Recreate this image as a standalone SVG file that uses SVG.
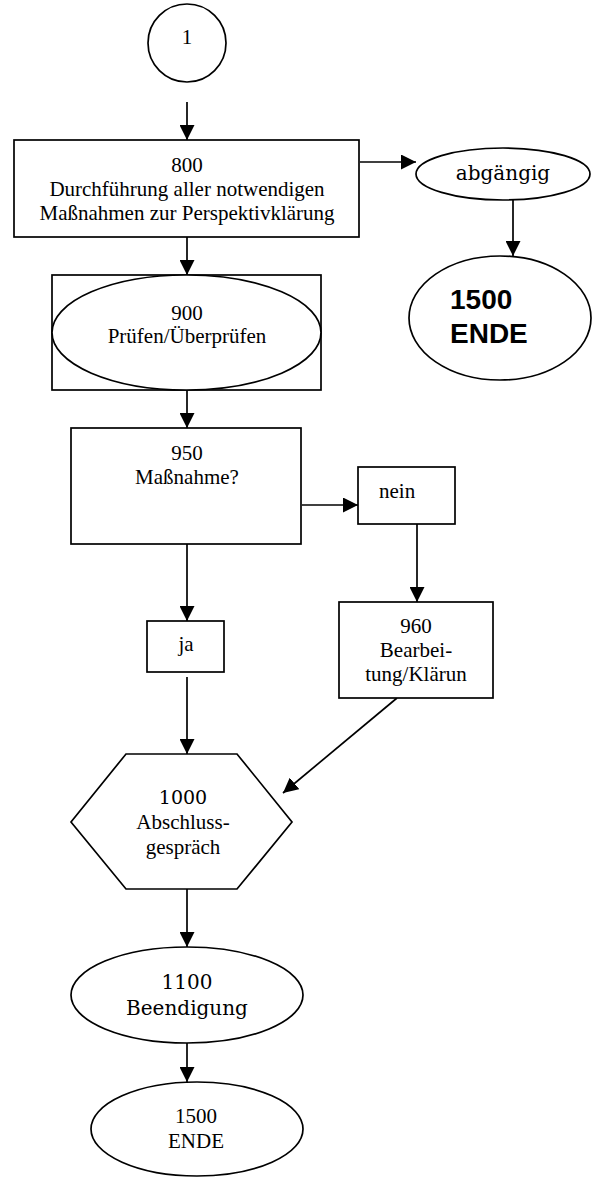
<svg xmlns="http://www.w3.org/2000/svg" width="600" height="1178" viewBox="0 0 600 1178">
<style>
.s{fill:#fff;stroke:#000;stroke-width:1.7}
.c{fill:none;stroke:#000;stroke-width:1.7;marker-end:url(#ah)}
.t{font-family:"Liberation Serif","Times New Roman",serif;font-size:21px;fill:#000;text-anchor:middle}
.d{font-family:"DejaVu Serif",serif;font-size:20px;fill:#000;text-anchor:middle}
.b{font-family:"Liberation Sans",Arial,sans-serif;font-size:28px;font-weight:bold;fill:#000}
</style>
<defs>
<marker id="ah" viewBox="0 0 10 10" refX="10" refY="5" markerUnits="userSpaceOnUse" markerWidth="15" markerHeight="15" orient="auto">
<path d="M0,0 L10,5 L0,10 z" fill="#000"/>
</marker>
</defs>
<rect width="600" height="1178" fill="#fff"/>
<g id="connectors">
<line class="c" x1="187" y1="102" x2="187" y2="140"/>
<line class="c" x1="360" y1="162" x2="416" y2="162"/>
<line class="c" x1="513" y1="200" x2="513" y2="256"/>
<line class="c" x1="187" y1="237" x2="187" y2="275"/>
<line class="c" x1="187" y1="390" x2="187" y2="428"/>
<line class="c" x1="302" y1="505" x2="358" y2="505"/>
<line class="c" x1="417" y1="524" x2="417" y2="602"/>
<line class="c" x1="187" y1="544" x2="187" y2="621"/>
<line class="c" x1="187" y1="677" x2="187" y2="754"/>
<line class="c" x1="397" y1="698" x2="283" y2="793"/>
<line class="c" x1="187" y1="889" x2="187" y2="947"/>
<line class="c" x1="187" y1="1043" x2="187" y2="1082"/>
</g>
<g id="n1">
<circle class="s" cx="187" cy="43" r="39"/>
<text class="t" x="187" y="44">1</text>
</g>
<g id="n800">
<rect class="s" x="14" y="140" width="345" height="97"/>
<text class="t" x="187" y="172">800</text>
<text class="t" x="187" y="196">Durchführung aller notwendigen</text>
<text class="t" x="187" y="220">Maßnahmen zur Perspektivklärung</text>
</g>
<g id="abgaengig">
<ellipse class="s" cx="503" cy="174" rx="87" ry="26"/>
<text class="d" x="503" y="180">abgängig</text>
</g>
<g id="n1500a">
<ellipse class="s" cx="500" cy="318" rx="91" ry="62"/>
<text class="b" x="450" y="309">1500</text>
<text class="b" x="450" y="343">ENDE</text>
</g>
<g id="n900">
<rect class="s" x="52" y="275" width="269" height="115"/>
<ellipse class="s" cx="186.5" cy="332.5" rx="134.5" ry="57.5"/>
<text class="t" x="187" y="320">900</text>
<text class="t" x="187" y="343">Prüfen/Überprüfen</text>
</g>
<g id="n950">
<rect class="s" x="71" y="428" width="230" height="116"/>
<text class="t" x="187" y="460">950</text>
<text class="t" x="187" y="484">Maßnahme?</text>
</g>
<g id="nein">
<rect class="s" x="358" y="467" width="97" height="57"/>
<text class="t" x="379" y="498" style="text-anchor:start">nein</text>
</g>
<g id="n960">
<rect class="s" x="339" y="602" width="154" height="96"/>
<text class="t" x="416" y="633">960</text>
<text class="t" x="416" y="657">Bearbei-</text>
<text class="t" x="416" y="681">tung/Klärun</text>
</g>
<g id="ja">
<rect class="s" x="147" y="621" width="77" height="51"/>
<text class="t" x="186" y="651">ja</text>
</g>
<g id="n1000">
<polygon class="s" points="126,754 237,754 292,822 237,889 126,889 71,822"/>
<text class="d" x="183" y="804" style="font-size:19px">1000</text>
<text class="t" x="183" y="829">Abschluss-</text>
<text class="t" x="183" y="854">gespräch</text>
</g>
<g id="n1100">
<ellipse class="s" cx="187" cy="995" rx="116" ry="48"/>
<text class="d" x="187" y="989">1100</text>
<text class="d" x="187" y="1015">Beendigung</text>
</g>
<g id="n1500b">
<ellipse class="s" cx="197" cy="1129" rx="106" ry="47"/>
<text class="t" x="196" y="1123">1500</text>
<text class="t" x="196" y="1148">ENDE</text>
</g>
</svg>
